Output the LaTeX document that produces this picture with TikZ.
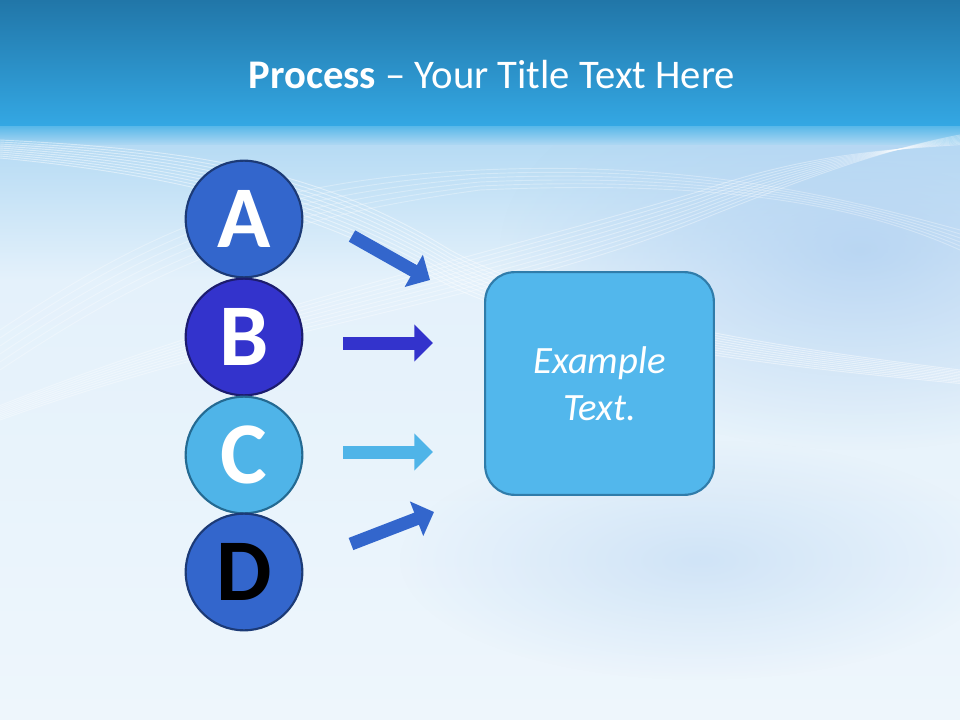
\documentclass[tikz,border=0pt]{standalone}
\usepackage{fontspec}
\setmainfont{Carlito}
\usetikzlibrary{arrows.meta,fadings}
\definecolor{topA}{RGB}{33,118,168}
\definecolor{topB}{RGB}{52,168,228}
\definecolor{bgA}{RGB}{176,216,243}
\definecolor{bgB}{RGB}{228,241,251}
\definecolor{bgC}{RGB}{238,246,252}
\definecolor{tint}{RGB}{182,212,242}
\definecolor{cA}{RGB}{51,102,204}
\definecolor{cAd}{RGB}{28,58,118}
\definecolor{cB}{RGB}{51,51,204}
\definecolor{cBd}{RGB}{28,28,110}
\definecolor{cC}{RGB}{79,180,232}
\definecolor{cCd}{RGB}{36,106,146}
\definecolor{boxF}{RGB}{82,183,236}
\definecolor{boxD}{RGB}{48,124,170}
\tikzfading[name=softblob, inner color=transparent!0, outer color=transparent!100]
\begin{document}
\begin{tikzpicture}[x=0.75pt,y=-0.75pt,
  circ/.style={circle, minimum size=87.5pt, inner sep=0pt, line width=1.6pt,
    font=\fontsize{66}{66}\selectfont\bfseries, text=white},
  exbox/.style={rounded corners=22pt, fill=boxF, draw=boxD, line width=1.6pt,
    minimum width=171.5pt, minimum height=167pt, align=center, text=white,
    font=\fontsize{29}{35.5}\selectfont\itshape},
  barrow/.style={line width=9.75pt, -{Triangle[length=14pt,width=27pt]}},
  wave/.style={white, line width=0.7pt, opacity=0.45}]
\useasboundingbox (0,0) rectangle (960,720);
% background
\shade[top color=bgA, bottom color=bgB] (0,127) rectangle (960,280);
\shade[top color=bgB, bottom color=bgC] (0,280) rectangle (960,720);
\fill[tint, path fading=softblob, opacity=0.9] (860,250) ellipse (360 and 200);
\fill[tint, path fading=softblob, opacity=0.5] (700,560) ellipse (300 and 120);
\shade[top color=topA, bottom color=topB] (0,0) rectangle (960,127);
\shade[top color=topB!80!white, bottom color=bgA] (0,127) rectangle (960,145);
% faint waves
\foreach \d in {0,5,...,45} {
  \draw[wave] (0,140+\d*0.4) .. controls (200,150+\d*0.6) and (320,170+\d) .. (450,250+\d*0.8) .. controls (580,320+\d*0.6) and (800,350+\d*0.4) .. (960,370+\d*0.3);
}
\foreach \d in {0,6,...,48} {
  \draw[wave, opacity=0.35] (0,420-\d*0.3) .. controls (250,330-\d*0.5) and (500,300-\d) .. (700,220-\d*0.6) .. controls (800,180-\d*0.5) and (880,150) .. (960,135+\d*0.2);
}
\foreach \d in {0,8,...,40} {
  \draw[wave, opacity=0.3] (0,330+\d) .. controls (150,230+\d) and (260,180+\d) .. (480,170+\d*0.5) .. controls (700,160+\d*0.5) and (850,200) .. (960,230+\d*0.5);
}
% title
\node[text=white, font=\fontsize{30.5}{36}\selectfont] (title) at (492,75)
  {\textbf{Process} – Your Title Text Here};
% circles
\node[circ, fill=cA, draw=cAd] (A) at (244,219) {A};
\node[circ, fill=cB, draw=cBd] (B) at (244,337) {B};
\node[circ, fill=cC, draw=cCd] (C) at (244,455) {C};
\node[circ, fill=cA, draw=cAd, text=black] (D) at (244,572) {D};
% box
\node[exbox] (box) at (599.5,383.5) {Example\\Text.};
% arrows
\coordinate (a1) at (352,236); \coordinate (a2) at (430,280);
\coordinate (b1) at (343,343); \coordinate (b2) at (433,343);
\coordinate (c1) at (343,452); \coordinate (c2) at (433,452);
\coordinate (d1) at (351,544); \coordinate (d2) at (434,512);
\draw[barrow, cA] (a1) -- (a2);
\draw[barrow, cB] (b1) -- (b2);
\draw[barrow, cC] (c1) -- (c2);
\draw[barrow, cA] (d1) -- (d2);
\end{tikzpicture}
\end{document}
